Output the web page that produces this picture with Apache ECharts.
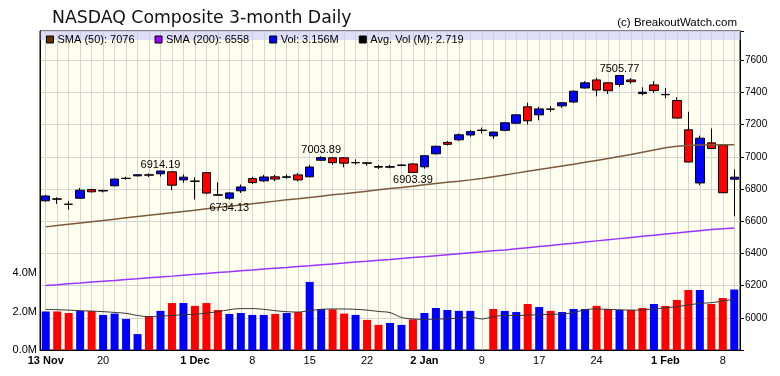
<!DOCTYPE html>
<html>
<head>
<meta charset="utf-8">
<script src="https://cdn.jsdelivr.net/npm/echarts@6/dist/echarts.min.js"></script>
<style>
  html, body { margin: 0; padding: 0; background: #fff; }
  #chart { width: 780px; height: 376px; }
</style>
</head>
<body>
<div id="chart"></div>
<script>
(function () {
  'use strict';

  var dates = [
    '2017-11-13', '2017-11-14', '2017-11-15', '2017-11-16', '2017-11-17',
    '2017-11-20', '2017-11-21', '2017-11-22', '2017-11-24', '2017-11-27',
    '2017-11-28', '2017-11-29', '2017-11-30', '2017-12-01', '2017-12-04',
    '2017-12-05', '2017-12-06', '2017-12-07', '2017-12-08', '2017-12-11',
    '2017-12-12', '2017-12-13', '2017-12-14', '2017-12-15', '2017-12-18',
    '2017-12-19', '2017-12-20', '2017-12-21', '2017-12-22', '2017-12-26',
    '2017-12-27', '2017-12-28', '2017-12-29', '2018-01-02', '2018-01-03',
    '2018-01-04', '2018-01-05', '2018-01-08', '2018-01-09', '2018-01-10',
    '2018-01-11', '2018-01-12', '2018-01-16', '2018-01-17', '2018-01-18',
    '2018-01-19', '2018-01-22', '2018-01-23', '2018-01-24', '2018-01-25',
    '2018-01-26', '2018-01-29', '2018-01-30', '2018-01-31', '2018-02-01',
    '2018-02-02', '2018-02-05', '2018-02-06', '2018-02-07', '2018-02-08',
    '2018-02-09'
  ];

  var tickIdx = [0, 5, 13, 18, 23, 28, 33, 38, 43, 48, 54, 59];
  var tickText = ['13 Nov', '20', '1 Dec', '8', '15', '22', '2 Jan', '9', '17', '24', '1 Feb', '8'];
  var boldTicks = ['13 Nov', '1 Dec', '2 Jan', '1 Feb'];

  var opens = [6727, 6739, 6705, 6743, 6797, 6788, 6820, 6866, 6882, 6889,
    6895, 6907, 6857, 6850, 6902, 6764, 6743, 6789, 6865, 6851,
    6876, 6873, 6888, 6876, 6979, 6994, 6994, 6963, 6963, 6940,
    6936, 6946, 6956, 6938, 7019, 7090, 7106, 7136, 7166, 7130,
    7165, 7209, 7311, 7261, 7297, 7317, 7341, 7428, 7478, 7460,
    7450, 7478, 7393, 7447, 7388, 7350, 7168, 6838, 7087, 7072,
    6861];
  var closes = [6757, 6737, 6706, 6793, 6783, 6791, 6862, 6867, 6889, 6886,
    6912, 6824, 6874, 6848, 6775, 6762, 6776, 6813, 6840, 6875,
    6862, 6876, 6857, 6937, 6995, 6964, 6961, 6965, 6960, 6936,
    6939, 6950, 6903.39, 7007, 7066, 7078, 7137, 7157, 7164, 7154,
    7212, 7261, 7224, 7298, 7296, 7336, 7408, 7460, 7415, 7411,
    7505.77, 7467, 7402, 7412, 7386, 7241, 6968, 7116, 7052, 6777,
    6874];
  var lows = [6722, 6708, 6672, 6742, 6778, 6779, 6818, 6858, 6878, 6874,
    6878, 6793, 6839, 6735, 6768, 6757, 6734.13, 6776, 6832, 6845,
    6849, 6864, 6848, 6875, 6974, 6952, 6935, 6952, 6945, 6925,
    6929, 6941, 6903.39, 6927, 7016, 7071, 7098, 7125, 7145, 7111,
    7160, 7204, 7201, 7227, 7280, 7305, 7335, 7425, 7376, 7391,
    7436, 7455, 7382, 7398, 7366, 7240, 6967, 6824, 7052, 6776,
    6631];
  var highs = [6764, 6749, 6724, 6807, 6801, 6796, 6865, 6876, 6890, 6898,
    6914.19, 6912, 6890, 6873, 6905, 6842, 6780, 6828, 6876, 6888,
    6888, 6891, 6900, 6950, 7003.89, 6997, 6998, 6984, 6966, 6950,
    6950, 6955, 6959, 7008, 7069, 7098, 7145, 7166, 7182, 7156,
    7212, 7264, 7336, 7311, 7315, 7338, 7412, 7470, 7491, 7463,
    7505.77, 7490, 7432, 7470, 7428, 7370, 7280, 7132, 7176, 7075,
    6922];

  // volume in millions (Jan 9 has no bar)
  var volume = [2.01, 2.01, 1.93, 2.04, 2.03, 1.83, 1.90, 1.62, 0.83, 1.77,
    2.04, 2.45, 2.45, 2.30, 2.45, 2.09, 1.88, 1.93, 1.83, 1.83,
    1.88, 1.93, 1.98, 3.55, 2.14, 2.12, 1.90, 1.83, 1.57, 1.31,
    1.41, 1.31, 1.60, 1.93, 2.19, 2.09, 2.04, 2.04, null, 2.14,
    2.04, 1.98, 2.40, 2.24, 2.04, 1.98, 2.14, 2.14, 2.30, 2.14,
    2.09, 2.09, 2.19, 2.40, 2.30, 2.61, 3.13, 3.13, 2.40, 2.71,
    3.156];
  var avgVol = [2.12, 2.10, 2.08, 2.05, 2.03, 2.00, 1.96, 1.91, 1.80, 1.74,
    1.76, 1.80, 1.84, 1.87, 1.92, 2.00, 2.10, 2.16, 2.16, 2.12,
    2.05, 2.00, 1.98, 2.06, 2.12, 2.14, 2.14, 2.12, 2.08, 2.01,
    1.95, 1.70, 1.62, 1.60, 1.61, 1.63, 1.66, 1.72, 1.62, 1.74,
    1.80, 1.80, 1.82, 1.84, 1.86, 1.88, 1.95, 2.10, 2.14, 2.12,
    2.10, 2.08, 2.09, 2.14, 2.20, 2.26, 2.35, 2.43, 2.47, 2.55,
    2.65];
  var sma50 = [6565, 6573, 6581, 6589, 6597, 6605, 6613, 6621, 6629, 6637,
    6645, 6653, 6661, 6669, 6677, 6685, 6693, 6701, 6709, 6717,
    6725, 6733, 6740, 6748, 6756, 6764, 6771, 6779, 6787, 6795,
    6803, 6810, 6818, 6826, 6834, 6842, 6849, 6857, 6866, 6877,
    6888, 6899, 6910, 6921, 6932, 6943, 6954, 6966, 6978, 6990,
    7002, 7014, 7028, 7042, 7056, 7066, 7071, 7073, 7074, 7075,
    7076];
  var sma200 = [6200, 6205, 6211, 6216, 6222, 6227, 6232, 6238, 6243, 6249,
    6254, 6259, 6265, 6270, 6276, 6281, 6286, 6292, 6297, 6303,
    6308, 6313, 6319, 6324, 6330, 6335, 6340, 6346, 6351, 6357,
    6362, 6368, 6374, 6380, 6386, 6392, 6398, 6404, 6410, 6416,
    6422, 6429, 6436, 6443, 6450, 6457, 6464, 6471, 6478, 6485,
    6492, 6499, 6506, 6513, 6520, 6527, 6534, 6541, 6548, 6553,
    6558];

  var legendNames = ['SMA (50): 7076', 'SMA (200): 6558', 'Vol: 3.156M', 'Avg. Vol (M): 2.719'];

  var noteIdx = [10, 16, 24, 32, 50];
  var noteVal = [6914.19, 6734.13, 7003.89, 6903.39, 7505.77];
  var notePos = ['top', 'bottom', 'top', 'bottom', 'top'];

  var UP = '#0000ff', DOWN = '#ff0000';
  var FONT = 'Liberation Sans';
  var GRID_LINE = '#d4d4d4';

  // plot box and half a category band, for the grid of day lines
  var plotLeft = 40, plotRight = 40, plotWidth = 780 - plotLeft - plotRight;
  var halfBand = plotWidth / dates.length / 2;

  var candles = dates.map(function (d, i) {
    return [opens[i], closes[i], lows[i], highs[i]];
  });

  var volData = volume.map(function (v, i) {
    var up = i === 0 || closes[i] >= closes[i - 1];
    return { value: v, itemStyle: { color: up ? UP : DOWN } };
  });

  var notes = noteIdx.map(function (ix, k) {
    return {
      coord: [dates[ix], noteVal[k]],
      value: noteVal[k],
      label: { position: notePos[k], distance: notePos[k] === 'top' ? 0 : 2 }
    };
  });

  var chart = echarts.init(document.getElementById('chart'));

  var option = {
    animation: false,
    backgroundColor: '#ffffff',
    title: [{
      text: 'NASDAQ Composite 3-month Daily',
      left: 47, top: 5,
      textStyle: { fontFamily: 'DejaVu Sans', fontSize: 17.3, fontWeight: 'normal', color: '#111' }
    }, {
      text: '(c) BreakoutWatch.com',
      right: 38, top: 12,
      textStyle: { fontFamily: FONT, fontSize: 11.5, fontWeight: 'normal', color: '#000' }
    }],
    legend: {
      left: 41, top: 29,
      icon: 'rect', itemWidth: 7, itemHeight: 7, itemGap: 20,
      selectedMode: false,
      itemStyle: { borderColor: '#000', borderWidth: 1 },
      textStyle: { fontFamily: FONT, fontSize: 11, color: '#000', padding: [0, 0, 0, -1] },
      data: [
        { name: legendNames[0], itemStyle: { color: '#663300' } },
        { name: legendNames[1], itemStyle: { color: '#9900ff' } },
        { name: legendNames[2], itemStyle: { color: UP } },
        { name: legendNames[3], itemStyle: { color: '#000' } }
      ]
    },
    graphic: [{
      type: 'rect', silent: true, z: 1,
      shape: { x: 40.5, y: 31, width: 700, height: 9 },
      style: { fill: 'rgba(200,200,250,0.6)' }
    }],
    grid: [{
      left: plotLeft, right: plotRight, top: 31, bottom: 26,
      show: true, backgroundColor: '#fffff0', borderColor: '#000', borderWidth: 1
    }, {
      // same box shrunk by half a band so the day lines sit on the bar centres
      left: plotLeft + halfBand, right: plotRight + halfBand, top: 31, bottom: 26,
      show: false
    }],
    xAxis: [{
      type: 'category',
      data: dates,
      boundaryGap: true,
      axisLine: { lineStyle: { color: '#000' } },
      axisTick: { show: false },
      splitLine: { show: false },
      axisLabel: {
        interval: function (i) { return tickIdx.indexOf(i) >= 0; },
        formatter: function (v, i) {
          var t = tickText[tickIdx.indexOf(i)] || '';
          return boldTicks.indexOf(t) >= 0 ? '{b|' + t + '}' : t;
        },
        margin: 5,
        color: '#000', fontFamily: FONT, fontSize: 11,
        rich: { b: { fontWeight: 'bold', fontFamily: FONT, fontSize: 11, color: '#000' } }
      }
    }, {
      type: 'category',
      gridIndex: 1,
      data: dates,
      boundaryGap: false,
      axisLine: { show: false },
      axisTick: { show: false },
      axisLabel: { show: false },
      splitLine: { show: true, interval: 0, lineStyle: { color: GRID_LINE } }
    }],
    yAxis: [{
      type: 'value',
      position: 'right',
      min: 5800, max: 7782, interval: 200,
      axisLine: { show: true, lineStyle: { color: '#000' } },
      axisTick: { show: true, length: 4, lineStyle: { color: '#000' } },
      splitLine: { show: true, lineStyle: { color: GRID_LINE } },
      axisLabel: {
        margin: 5, color: '#000', fontFamily: FONT, fontSize: 10,
        formatter: function (v) { return (v >= 6000 && v <= 7600) ? String(v) : ''; }
      }
    }, {
      type: 'value',
      position: 'left',
      min: 0, max: 16.64, interval: 2,
      axisLine: { show: true, lineStyle: { color: '#000' } },
      axisTick: { show: false },
      splitLine: { show: false },
      axisLabel: {
        margin: 3, color: '#000', fontFamily: FONT, fontSize: 11,
        formatter: function (v) { return v <= 4 ? v.toFixed(1) + 'M' : ''; }
      }
    }, {
      type: 'value',
      gridIndex: 1,
      show: false,
      splitLine: { show: false }
    }],
    series: [{
      name: legendNames[2],
      type: 'bar',
      yAxisIndex: 1,
      barWidth: 8,
      itemStyle: { color: UP },
      data: volData
    }, {
      name: 'Price',
      type: 'candlestick',
      barWidth: 9,
      itemStyle: {
        color: UP, color0: DOWN,
        borderColor: '#000', borderColor0: '#000', borderColorDoji: '#000', borderWidth: 1
      },
      data: candles,
      markPoint: {
        symbol: 'circle', symbolSize: 1,
        itemStyle: { color: 'rgba(0,0,0,0)' },
        label: {
          show: true, color: '#000', fontFamily: FONT, fontSize: 11,
          formatter: function (p) { return p.value.toFixed(2); }
        },
        data: notes
      }
    }, {
      name: legendNames[1],
      type: 'line',
      data: sma200,
      showSymbol: false,
      lineStyle: { color: '#9933ff', width: 1.5 }
    }, {
      name: legendNames[0],
      type: 'line',
      data: sma50,
      showSymbol: false,
      lineStyle: { color: '#7d5a3c', width: 1.5 }
    }, {
      name: legendNames[3],
      type: 'line',
      yAxisIndex: 1,
      data: avgVol,
      smooth: 0.4,
      showSymbol: false,
      lineStyle: { color: '#333', width: 1 }
    }]
  };

  chart.setOption(option);
})();
</script>
</body>
</html>
